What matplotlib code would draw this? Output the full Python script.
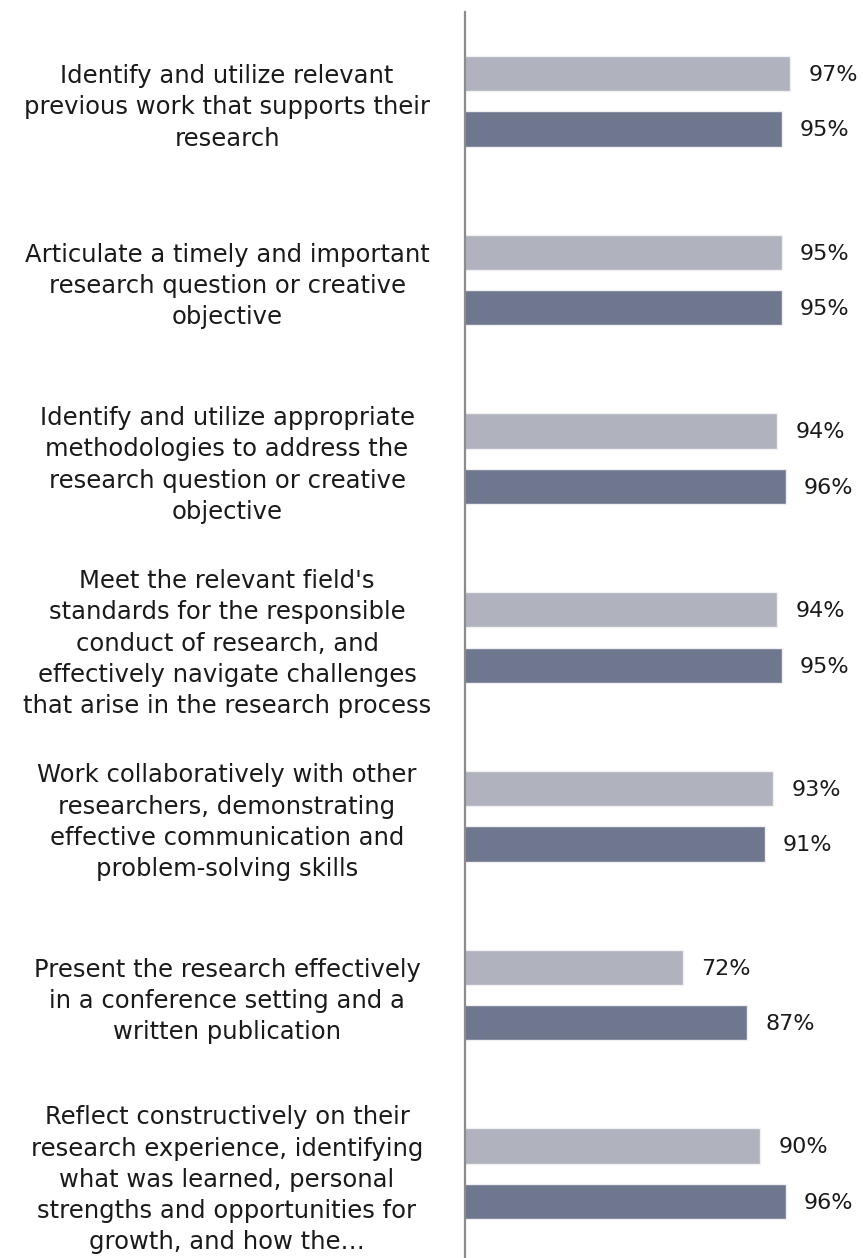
import matplotlib
matplotlib.use("Agg")
import matplotlib.pyplot as plt
import numpy as np

categories = [
    "Identify and utilize relevant\nprevious work that supports their\nresearch",
    "Articulate a timely and important\nresearch question or creative\nobjective",
    "Identify and utilize appropriate\nmethodologies to address the\nresearch question or creative\nobjective",
    "Meet the relevant field's\nstandards for the responsible\nconduct of research, and\neffectively navigate challenges\nthat arise in the research process",
    "Work collaboratively with other\nresearchers, demonstrating\neffective communication and\nproblem-solving skills",
    "Present the research effectively\nin a conference setting and a\nwritten publication",
    "Reflect constructively on their\nresearch experience, identifying\nwhat was learned, personal\nstrengths and opportunities for\ngrowth, and how the\u2026",
]
series_a = [97, 95, 94, 94, 93, 72, 90]   # light bars
series_b = [95, 95, 96, 95, 91, 87, 96]   # dark bars

color_a = "#b0b2bd"
color_b = "#6f778f"

plt.rcParams['font.family'] = ['DejaVu Sans']

W, H = 863, 1258
fig = plt.figure(figsize=(W/100, H/100), dpi=100)
ax = fig.add_axes([465/W, -5/H, (W-465)/W, 1251/H])

y = np.arange(len(categories))
off = 0.155
h = 0.198
ax.barh(y - off, series_a, height=h, color=color_a, edgecolor="#f0f0f3", linewidth=1)
ax.barh(y + off, series_b, height=h, color=color_b, edgecolor="#f0f0f3", linewidth=1)

for yi, va, vb in zip(y, series_a, series_b):
    ax.annotate(f"{va}%", (va, yi - off), xytext=(13, -1), textcoords="offset points",
                va="center", ha="left", fontsize=16, color="#1a1a1a")
    ax.annotate(f"{vb}%", (vb, yi + off), xytext=(13, -1), textcoords="offset points",
                va="center", ha="left", fontsize=16, color="#1a1a1a")

ax.set_xlim(21, 114)
ax.set_ylim(len(categories) - 0.5, -0.5)
ax.set_yticks(y)
ax.set_yticklabels(categories, ha="center", multialignment="center", fontsize=17.5,
                   color="#1a1a1a", linespacing=1.38)
ax.tick_params(axis="y", length=0, pad=(465-227)*0.72)
ax.set_xticks([])
for s in ["top", "right", "bottom"]:
    ax.spines[s].set_visible(False)
ax.spines["left"].set_color("#8c8c8c")
ax.spines["left"].set_linewidth(1.6)

fig.savefig("out.png", dpi=100)
